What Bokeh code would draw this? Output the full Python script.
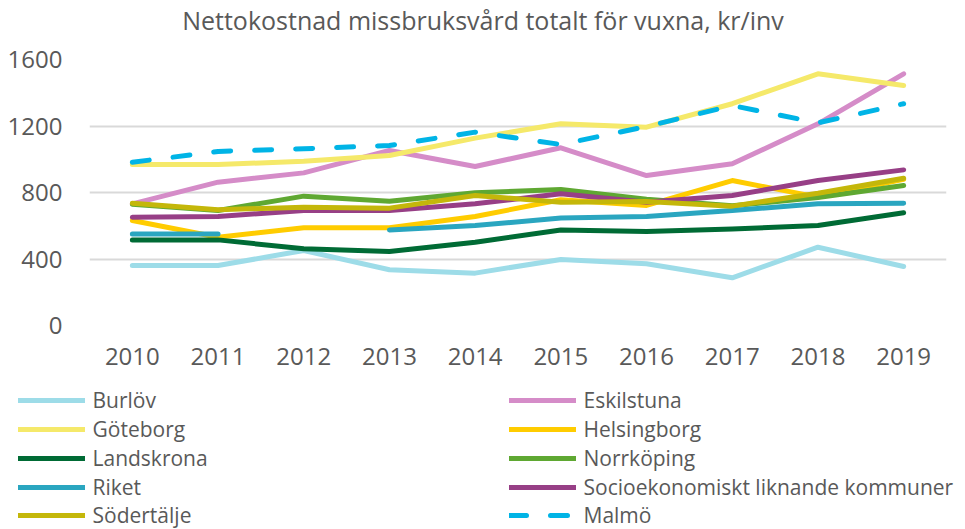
import numpy as np
from bokeh.plotting import figure
from bokeh.layouts import column
from bokeh.models import Range1d, FactorRange, Legend, LegendItem, FixedTicker
from bokeh.embed import file_html
from bokeh.resources import INLINE

years = ["2010", "2011", "2012", "2013", "2014", "2015", "2016", "2017", "2018", "2019"]
burlov = [361, 361, 451, 335, 315, 397, 371, 287, 471, 355]
eskilstuna = [732, 862, 918, 1053, 956, 1069, 902, 973, 1213, 1514]
goteborg = [968, 968, 988, 1023, 1127, 1213, 1193, 1334, 1514, 1444]
helsingborg = [632, 531, 588, 588, 656, 756, 722, 872, 772, 880]
landskrona = [515, 515, 461, 445, 501, 575, 565, 581, 601, 678]
norrkoping = [730, 692, 778, 748, 798, 818, 760, 720, 770, 842]
riket = [551, 551, np.nan, 575, 601, 646, 656, 692, 732, 736]
socio = [651, 656, 692, 692, 732, 792, 742, 782, 872, 936]
sodertalje = [736, 696, 712, 706, 782, 742, 746, 718, 796, 886]
malmo = [982, 1047, 1063, 1083, 1163, 1089, 1197, 1323, 1219, 1334]
y_ticks = [0, 400, 800, 1200, 1600]

names = ["Burlöv", "Eskilstuna", "Göteborg", "Helsingborg", "Landskrona",
         "Norrköping", "Riket", "Socioekonomiskt liknande kommuner", "Södertälje", "Malmö"]
series = [burlov, eskilstuna, goteborg, helsingborg, landskrona,
          norrkoping, riket, socio, sodertalje, malmo]
colors = ["#9ddce8", "#d58cc8", "#f5e96a", "#ffcc00", "#006b35",
          "#5fa832", "#2aa6c0", "#973f86", "#c4b70a", "#00b4e6"]
title_text = "Nettokostnad missbruksvård totalt för vuxna, kr/inv"

FONT = "Open Sans"
TXT = "#595959"
W = 965

def bare(fig, no_grid=False):
    fig.frame_align = False
    fig.outline_line_color = None
    if no_grid:
        for g in fig.grid:
            g.visible = False
    return fig

# ---- title strip ----
TH = 40
t = bare(figure(width=W, height=TH, x_range=Range1d(0, 1), y_range=Range1d(0, 1),
                output_backend="svg", toolbar_location=None,
                x_axis_location=None, y_axis_location=None, title=title_text,
                min_border_left=0, min_border_right=0, min_border_top=0,
                min_border_bottom=0), no_grid=True)
t.title.text_font = FONT
t.title.text_font_size = "25px"
t.title.text_font_style = "normal"
t.title.text_color = TXT
t.title.align = "center"
t.title.standoff = 0

# ---- main chart ----
p = bare(figure(width=W, height=345, x_range=FactorRange(*years, range_padding=0),
                y_range=Range1d(0, 1600), output_backend="svg", toolbar_location=None,
                min_border_left=89, min_border_right=19, min_border_top=19,
                min_border_bottom=60))
p.xgrid.grid_line_color = None
p.ygrid.grid_line_color = "#d9d9d9"
p.ygrid.grid_line_width = 2
p.yaxis.ticker = FixedTicker(ticks=y_ticks)

for ax in (p.xaxis, p.yaxis):
    ax.axis_line_color = None
    ax.major_tick_line_color = None
    ax.minor_tick_line_color = None
    ax.major_label_text_font = FONT
    ax.major_label_text_font_size = "24px"
    ax.major_label_text_color = TXT
p.yaxis.major_label_standoff = 21
p.xaxis.major_label_standoff = 16

def style(name, col):
    kw = dict(line_width=5, line_color=col, line_join="round", line_cap="round")
    if name == "Malmö":
        kw["line_dash"] = "17 24"
    return kw

for name, vals, col in zip(names, series, colors):
    p.line(years, vals, **style(name, col))

# ---- legend strip ----
LH = 144
q = bare(figure(width=W, height=LH, x_range=Range1d(0, 1), y_range=Range1d(0, 1),
                output_backend="svg", toolbar_location=None,
                x_axis_location=None, y_axis_location=None,
                min_border_left=0, min_border_right=0, min_border_top=0,
                min_border_bottom=0), no_grid=True)

# legend-only renderers (nothing visible is drawn from them)
leg_renderers = {n: q.line([np.nan, np.nan], [np.nan, np.nan], **style(n, c))
                 for n, c in zip(names, colors)}

col1 = ["Burlöv", "Göteborg", "Landskrona", "Riket", "Södertälje"]
col2 = ["Eskilstuna", "Helsingborg", "Norrköping", "Socioekonomiskt liknande kommuner", "Malmö"]
row_centers = [14.5, 43.5, 72.5, 101.5, 129.5]
ITEM_H = 28

for cols, xloc in ((col1, 17.5), (col2, 508.5)):
    for n, cy in zip(cols, row_centers):
        lg = Legend(items=[LegendItem(label=n, renderers=[leg_renderers[n]])],
                    location=(xloc, LH - cy - ITEM_H / 2))
        lg.border_line_color = None
        lg.background_fill_alpha = 0
        lg.padding = 0
        lg.margin = 0
        lg.glyph_width = 67
        lg.glyph_height = ITEM_H
        lg.label_height = ITEM_H
        lg.label_standoff = 8
        lg.label_text_font = FONT
        lg.label_text_font_size = "21px"
        lg.label_text_color = TXT
        lg.label_text_baseline = "middle"
        q.add_layout(lg, "center")

open("out.html", "w").write(file_html(column(t, p, q, spacing=0), INLINE))
